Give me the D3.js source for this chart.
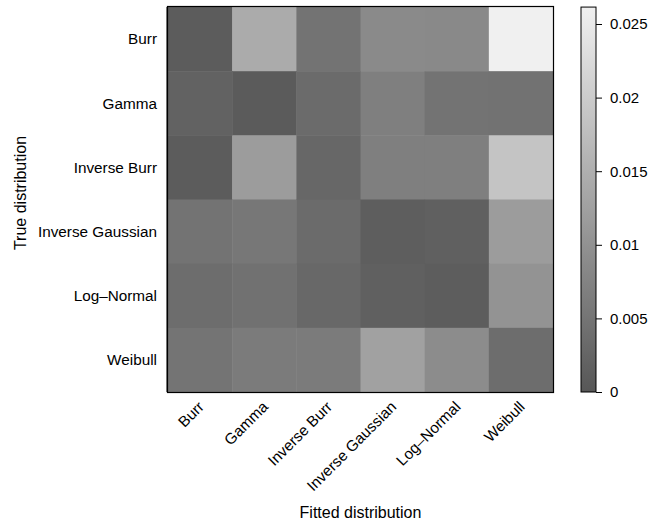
<!DOCTYPE html>
<html>
<head>
<meta charset="utf-8">
<script src="https://cdn.jsdelivr.net/npm/d3@7"></script>
<style>
  body { margin: 0; background: #fff; }
  text { font-family: "Liberation Sans", Arial, sans-serif; fill: #000; }
</style>
</head>
<body>
<svg id="chart" width="651" height="523"></svg>
<script>
// Distributions: rows = true distribution, columns = fitted distribution
const fitted = ["Burr", "Gamma", "Inverse Burr", "Inverse Gaussian", "Log\u2013Normal", "Weibull"];
const trueDist = ["Burr", "Gamma", "Inverse Burr", "Inverse Gaussian", "Log\u2013Normal", "Weibull"];

// Error values, one array per true distribution (in the order of `fitted`)
const burrRow      = [0.0009, 0.0144, 0.0048, 0.0087, 0.0086, 0.0262];
const gammaRow     = [0.0019, 0.0006, 0.0034, 0.0068, 0.0048, 0.0046];
const invBurrRow   = [0.0008, 0.0118, 0.0027, 0.0068, 0.0068, 0.0187];
const invGaussRow  = [0.0048, 0.0055, 0.0034, 0.0012, 0.0015, 0.0118];
const logNormalRow = [0.0038, 0.0045, 0.0029, 0.0015, 0.0010, 0.0103];
const weibullRow   = [0.0050, 0.0062, 0.0062, 0.0127, 0.0091, 0.0038];
const rows = [burrRow, gammaRow, invBurrRow, invGaussRow, logNormalRow, weibullRow];

const colorTicks = [0, 0.005, 0.01, 0.015, 0.02, 0.025];
const colorMax = 0.02615;

const cells = [];
rows.forEach((r, i) => r.forEach((v, j) => cells.push({ t: trueDist[i], f: fitted[j], v })));

const svg = d3.select("#chart");
const plot = { left: 168, top: 7, right: 553, bottom: 392 };

const x = d3.scaleBand().domain(fitted).range([plot.left, plot.right]).padding(0);
const y = d3.scaleBand().domain(trueDist).range([plot.top, plot.bottom]).padding(0);
const color = d3.scaleLinear().domain([0, colorMax]).range(["#575757", "#f0f0f0"]);

// Heatmap cells
svg.append("g").selectAll("rect").data(cells).join("rect")
  .attr("x", d => x(d.f))
  .attr("y", d => y(d.t))
  .attr("width", x.bandwidth() + 0.5)
  .attr("height", y.bandwidth() + 0.5)
  .attr("fill", d => color(d.v));

// Panel frame
svg.append("rect")
  .attr("x", plot.left - 0.5).attr("y", plot.top - 0.5)
  .attr("width", plot.right - plot.left + 1).attr("height", plot.bottom - plot.top + 1)
  .attr("fill", "none").attr("stroke", "#000").attr("stroke-width", 1.2);
svg.append("line")
  .attr("x1", plot.left - 1).attr("x2", plot.left - 1)
  .attr("y1", plot.top).attr("y2", plot.bottom)
  .attr("stroke", "#000").attr("stroke-width", 1);

// Row labels
svg.append("g").selectAll("text").data(trueDist).join("text")
  .attr("x", 157)
  .attr("y", d => y(d) + y.bandwidth() / 2)
  .attr("dy", "0.35em")
  .attr("text-anchor", "end")
  .style("font-size", "15.3px")
  .text(d => d);

// Column labels, rotated
svg.append("g").selectAll("text").data(fitted).join("text")
  .attr("transform", d => `translate(${x(d) + x.bandwidth() / 2 + 1},${404}) rotate(-45)`)
  .attr("dy", "0.35em")
  .attr("text-anchor", "end")
  .style("font-size", "15.3px")
  .text(d => d);

// Axis titles
svg.append("text")
  .attr("transform", "translate(26,193) rotate(-90)")
  .attr("text-anchor", "middle")
  .style("font-size", "16px")
  .text("True distribution");

svg.append("text")
  .attr("x", (plot.left + plot.right) / 2)
  .attr("y", 518)
  .attr("text-anchor", "middle")
  .style("font-size", "16px")
  .text("Fitted distribution");

// Colour key
const key = { left: 581, right: 596, top: 7, bottom: 392 };
const ky = d3.scaleLinear().domain([0, 0.025]).range([key.bottom, 24]);
const defs = svg.append("defs");
const grad = defs.append("linearGradient").attr("id", "keygrad")
  .attr("x1", 0).attr("y1", 1).attr("x2", 0).attr("y2", 0);
d3.range(0, 1.0001, 0.1).forEach(t => {
  grad.append("stop").attr("offset", t).attr("stop-color", color(t * colorMax));
});
svg.append("rect")
  .attr("x", key.left).attr("y", ky(colorMax))
  .attr("width", key.right - key.left).attr("height", ky(0) - ky(colorMax))
  .attr("fill", "url(#keygrad)")
  .attr("stroke", "#000").attr("stroke-width", 1);

const keyAxis = d3.axisRight(ky).tickValues(colorTicks)
  .tickFormat(d => d === 0 ? "0" : String(+d.toFixed(3)))
  .tickSize(6).tickPadding(8);
const ka = svg.append("g").attr("transform", `translate(${key.right},0)`).call(keyAxis);
ka.select(".domain").remove();
ka.selectAll("text").style("font-size", "15px").attr("fill", "#000")
  .style("font-family", "'Liberation Sans', Arial, sans-serif");
ka.selectAll("line").attr("stroke", "#000");
</script>
</body>
</html>
